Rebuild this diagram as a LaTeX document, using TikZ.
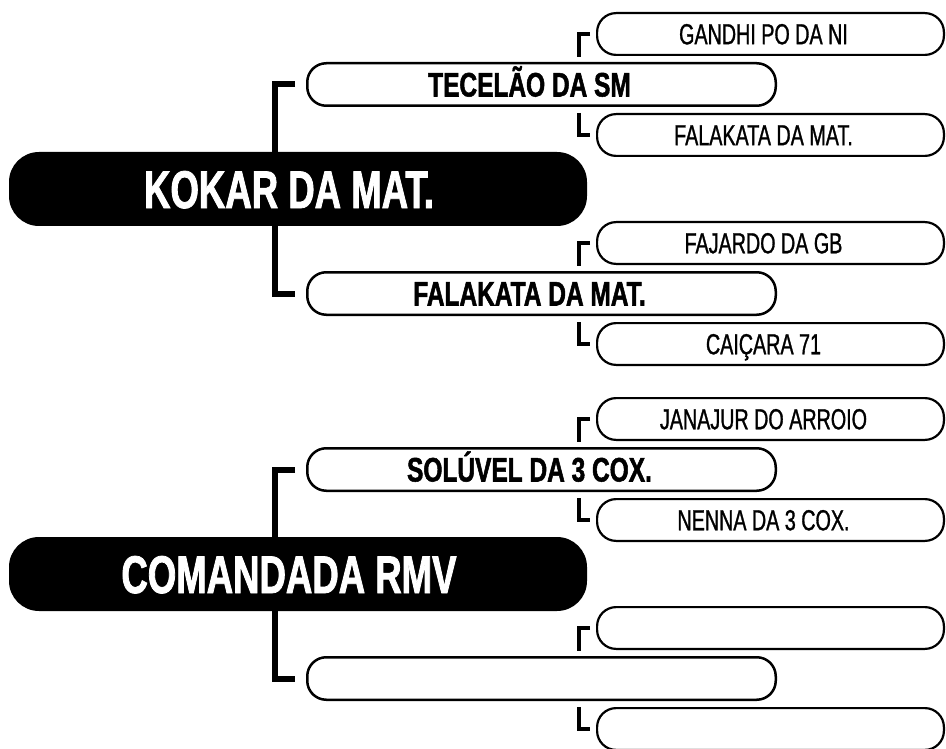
\documentclass[tikz,border=0pt]{standalone}
\usepackage{fontspec}
\setmainfont{Liberation Sans}
\newfontfamily\damfont{Liberation Sans}[FakeStretch=0.69, FakeBold=1.5]
\newfontfamily\sirefont{Liberation Sans}[FakeStretch=0.72, FakeBold=1.5]
\newfontfamily\gsirefont{Liberation Sans}[FakeStretch=0.68, FakeBold=1]
\usepackage{tikz}
\tikzset{dam/.style={fill=black, rounded corners=30pt, minimum width=578pt, minimum height=74pt, inner sep=0pt},
	damname/.style={text=white, font=\damfont\bfseries\fontsize{53}{53}\selectfont, text height=38pt, text depth=0pt, inner sep=0pt, xshift=-9pt},
	sire/.style={draw, line width=2.5pt, rounded corners=19pt, minimum width=468.5pt, minimum height=42.5pt, inner sep=0pt},
	sirename/.style={font=\sirefont\bfseries\fontsize{34}{34}\selectfont, text height=24pt, text depth=0pt, inner sep=0pt, xshift=-12pt},
	gsire/.style={draw, line width=2.2pt, rounded corners=19pt, minimum width=346.8pt, minimum height=41.8pt, inner sep=0pt},
	gsirename/.style={font=\gsirefont\fontsize{29}{29}\selectfont, text height=20.5pt, text depth=0pt, inner sep=0pt, xshift=-7pt},
	link/.style={line width=6pt},
	tick/.style={line width=3.5pt}}

\begin{document}
\begin{tikzpicture}[x=1pt, y=-1pt]
	\useasboundingbox (0,0) rectangle (946,749);
	% KOKAR DA MAT.
	\node[sire] (kokarS) at (541.5,84.5) {};
	\node[sire] (kokarD) at (541.5,293.5) {};
	\node[gsire] (kokarSS) at (770.5,34) {};
	\node[gsire] (kokarSD) at (770.5,135) {};
	\node[gsire] (kokarDS) at (770.5,243) {};
	\node[gsire] (kokarDD) at (770.5,344) {};
	\draw[link] ([xshift=-11pt]kokarS.west) -| ([xshift=-31pt]kokarD.west) -- ([xshift=-11pt]kokarD.west);
	\draw[tick] ([xshift=-6pt]kokarSS.west) -| ([xshift=-17pt,yshift=5pt]kokarS.north -| kokarSS.west);
	\draw[tick] ([xshift=-17pt,yshift=-6pt]kokarS.south -| kokarSD.west) |- ([xshift=-6pt]kokarSD.west);
	\draw[tick] ([xshift=-6pt]kokarDS.west) -| ([xshift=-17pt,yshift=5pt]kokarD.north -| kokarDS.west);
	\draw[tick] ([xshift=-17pt,yshift=-6pt]kokarD.south -| kokarDD.west) |- ([xshift=-6pt]kokarDD.west);
	\node[dam] (kokar) at (298,189) {};
	\node[damname] (kokarT) at (kokar) {KOKAR DA MAT.};
	\node[sirename] (kokarST) at (kokarS) {TECELÃO DA SM};
	\node[sirename] (kokarDT) at (kokarD) {FALAKATA DA MAT.};
	\node[gsirename] (kokarSST) at (kokarSS) {GANDHI PO DA NI};
	\node[gsirename] (kokarSDT) at (kokarSD) {FALAKATA DA MAT.};
	\node[gsirename] (kokarDST) at (kokarDS) {FAJARDO DA GB};
	\node[gsirename] (kokarDDT) at (kokarDD) {CAIÇARA 71};
	% COMANDADA RMV
	\node[sire] (comS) at (541.5,469.5) {};
	\node[sire] (comD) at (541.5,678.5) {};
	\node[gsire] (comSS) at (770.5,419) {};
	\node[gsire] (comSD) at (770.5,520) {};
	\node[gsire] (comDS) at (770.5,628) {};
	\node[gsire] (comDD) at (770.5,729) {};
	\draw[link] ([xshift=-11pt]comS.west) -| ([xshift=-31pt]comD.west) -- ([xshift=-11pt]comD.west);
	\draw[tick] ([xshift=-6pt]comSS.west) -| ([xshift=-17pt,yshift=5pt]comS.north -| comSS.west);
	\draw[tick] ([xshift=-17pt,yshift=-6pt]comS.south -| comSD.west) |- ([xshift=-6pt]comSD.west);
	\draw[tick] ([xshift=-6pt]comDS.west) -| ([xshift=-17pt,yshift=5pt]comD.north -| comDS.west);
	\draw[tick] ([xshift=-17pt,yshift=-6pt]comD.south -| comDD.west) |- ([xshift=-6pt]comDD.west);
	\node[dam] (com) at (298,574) {};
	\node[damname] (comT) at (com) {COMANDADA RMV};
	\node[sirename] (comST) at (comS) {SOLÚVEL DA 3 COX.};
	\node[gsirename] (comSST) at (comSS) {JANAJUR DO ARROIO};
	\node[gsirename] (comSDT) at (comSD) {NENNA DA 3 COX.};
\end{tikzpicture}
\end{document}
